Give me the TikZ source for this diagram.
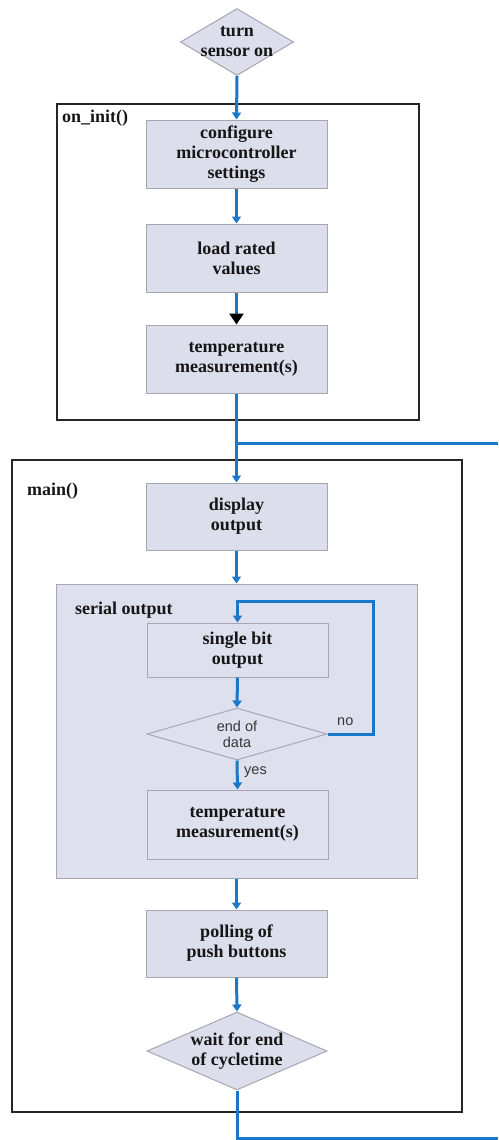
\documentclass[tikz,border=0pt]{standalone}
\usepackage{fontspec}
\setmainfont{Liberation Serif}
\newfontfamily\arialf{Liberation Sans}
\usetikzlibrary{arrows.meta,shapes.geometric}
\definecolor{flowblue}{RGB}{25,120,200}
\definecolor{boxfill}{RGB}{221,222,236}
\definecolor{serfill}{RGB}{223,224,237}
\definecolor{boxedge}{RGB}{165,166,178}
\definecolor{txt}{RGB}{22,22,22}
\definecolor{stxt}{RGB}{55,55,55}
\begin{document}
\begin{tikzpicture}[x=1pt,y=-1pt,
  boldtext/.style={font=\fontsize{18}{20}\selectfont\bfseries, text=txt},
  procbox/.style={rectangle, draw=boxedge, line width=1pt, fill=boxfill,
    minimum width=181pt, inner sep=0pt, align=center, boldtext},
  decide/.style={diamond, draw=boxedge, line width=1pt, fill=boxfill, inner sep=0pt},
  frame/.style={draw=black!85, line width=2pt},
  sanslabel/.style={font=\arialf\fontsize{14.5}{16}\selectfont, text=stxt, inner sep=0pt},
  flowline/.style={draw=flowblue, line width=3pt},
  flow/.style={flowline, -{Triangle[length=7pt,width=9pt]}},
  blackflow/.style={flowline, -{Triangle[length=11pt,width=14pt,color=black]}}
]
\useasboundingbox (0,0) rectangle (498,1140);

% frames
\draw[frame] (57,104) rectangle (419,420);
\node[boldtext, anchor=west, inner sep=0pt] (initlbl) at (62,118) {on\_init()};
\draw[frame] (12,460) rectangle (462,1112);
\node[boldtext, anchor=west, inner sep=0pt] (mainlbl) at (27,491) {main()};
\node[rectangle, draw=boxedge, line width=1pt, fill=serfill, minimum width=361pt, minimum height=294pt, inner sep=0pt] (serial) at (236.5,731) {};
\node[boldtext, anchor=west, inner sep=0pt] (seriallbl) at (75,610) {serial output};

% nodes
\node[decide, minimum width=113pt, minimum height=67pt,
  label={[boldtext, align=center]center:turn\\sensor on}] (start) at (237,42) {};
\node[procbox, minimum height=68pt] (config) at (236.5,154) {configure\\microcontroller\\settings};
\node[procbox, minimum height=68pt] (load) at (236.5,258) {load rated\\values};
\node[procbox, minimum height=68pt] (temp1) at (236.5,359) {temperature\\measurement(s)};
\node[procbox, minimum height=67pt] (display) at (236.5,516.5) {display\\output};
\node[procbox, fill=serfill, minimum height=54pt] (single) at (237.5,650) {single bit\\output};
\node[decide, fill=serfill, minimum width=180pt, minimum height=52pt,
  label={[sanslabel, align=center]center:end of\\data}] (eod) at (237,734) {};
\node[procbox, fill=serfill, minimum height=69pt] (temp2) at (237.5,824.5) {temperature\\measurement(s)};
\node[procbox, minimum height=67pt] (poll) at (236.5,943.5) {polling of\\push buttons};
\node[decide, minimum width=180pt, minimum height=78pt,
  label={[boldtext, align=center]center:wait for end\\of cycletime}] (wait) at (237,1051) {};

\node[sanslabel, anchor=west] (nolbl) at (337,722) {no};
\node[sanslabel, anchor=west] (yeslbl) at (244,772) {yes};

% coordinates
\coordinate (loopR) at (373,601);
\coordinate (retBR) at (498,1138);
\coordinate (retTR) at (498,443);
\coordinate (junc) at (237,443);

% connectors
\draw[flow] (start.south) -- (config.north);
\draw[flow] (config.south) -- (load.north);
\draw[blackflow] (load.south) -- (temp1.north);
\draw[flow] (temp1.south) -- (display.north);
\draw[flowline] (retTR) -- (junc);
\draw[flow] (display.south) -- (serial.north);
\draw[flow] (single.south) -- (eod.north);
\draw[flow] (eod.east) -| (loopR) -| (single.north);
\draw[flow] (eod.south) -- (temp2.north);
\draw[flow] (serial.south) -- (poll.north);
\draw[flow] (poll.south) -- (wait.north);
\draw[flowline] (wait.south) |- (retBR);
\end{tikzpicture}
\end{document}
